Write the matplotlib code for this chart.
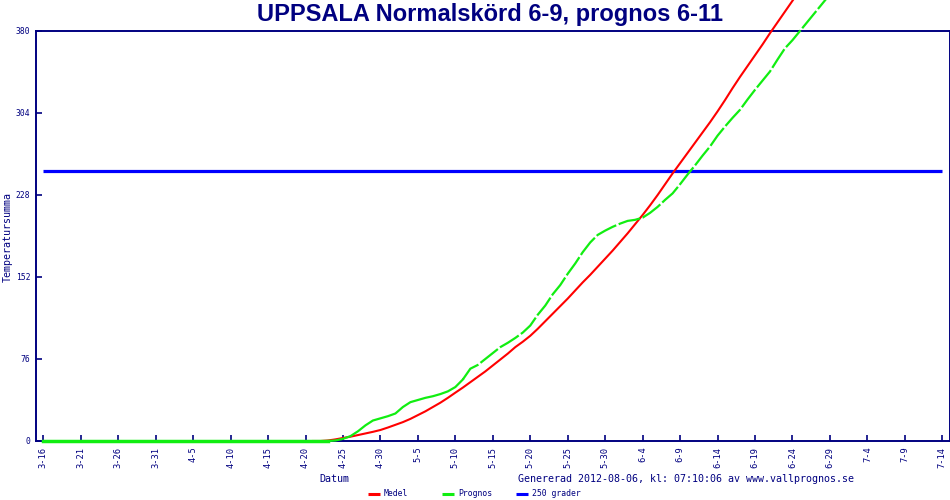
import datetime
import matplotlib
matplotlib.use('Agg')
import matplotlib.pyplot as plt
from matplotlib.lines import Line2D

# ---------------- data ----------------
YEAR = 2012
origin = '3-16'
tick_labels = ['3-16', '3-21', '3-26', '3-31', '4-5', '4-10', '4-15', '4-20', '4-25',
               '4-30', '5-5', '5-10', '5-15', '5-20', '5-25', '5-30', '6-4', '6-9',
               '6-14', '6-19', '6-24', '6-29', '7-4', '7-9', '7-14']
y_ticks = [0, 76, 152, 228, 304, 380]
threshold = 250
legend_labels = ['Medel', 'Prognos', '250 grader']

# Medel: daily values starting at 4-21
medel_start = '4-21'
medel_values = [0, 0, 0.5, 1.5, 2.8, 4, 5.5, 7, 8.5, 10.2, 12.5, 15, 17.5, 20.5, 24, 27.5,
                31.5, 35.5, 40, 44.8, 49.5, 54.5, 59.5, 64.5, 70, 75.5, 81, 87, 92, 97.5,
                104, 111, 118, 125, 132, 139.5, 147, 154, 161.5, 169, 176.5, 184.5, 192.5,
                201, 209.5, 218.5, 228, 238, 248, 257.5, 267, 276.5, 286, 295.5, 305.5, 316,
                327, 337.5, 347.5, 357.5, 367.5, 378, 388, 398, 408, 418]

# Prognos: zero until 4-23, then daily values starting at 4-24
prognos_zero_until = '4-23'
prognos_start = '4-24'
prognos_values = [0.5, 2, 4.5, 9, 14.5, 19, 21, 23, 25.5, 31.5, 36, 38, 40, 41.5, 43.5, 46,
                  50, 57, 67, 70.5, 76, 81.5, 87, 91, 95.5, 100.5, 107, 117, 125.5, 136,
                  144.5, 155, 164.5, 175, 184, 191, 195, 198.5, 201.5, 204, 205, 207, 211.5,
                  217, 223.5, 229.5, 238, 247, 255.5, 264.5, 273, 283, 291.5, 299.5, 307,
                  316.5, 325.5, 334, 342.5, 353.5, 364, 371.5, 380, 388.5, 397, 405.5, 414]
dash_from = '5-11'

# ---------------- helpers ----------------
def to_date(md):
    m, d = md.split('-')
    return datetime.date(YEAR, int(m), int(d))

d0 = to_date(origin)
def day(md):
    return (to_date(md) - d0).days

def series(start, values):
    s = day(start)
    return [s + i for i in range(len(values))], values

NAVY = '#000080'
RED = '#ff0000'
GREEN = '#11ee11'
BLUE = '#0000ff'
MONO = 'DejaVu Sans Mono'
W, H = 950, 500

fig = plt.figure(figsize=(9.5, 5), dpi=100)
fig.patch.set_facecolor('white')
ax = fig.add_axes([36 / W, 59 / H, 913.5 / W, 410 / H])

ax.set_xlim(-0.975, 120.96)
ax.set_ylim(0, 380)

# threshold line
t_days = [day(tick_labels[0]), day(tick_labels[-1])]
ax.plot(t_days, [threshold, threshold], color=BLUE, lw=2.3, zorder=2, solid_capstyle='butt')

# Medel
mx, my = series(medel_start, medel_values)
ax.plot(mx, my, color=RED, lw=1.5, zorder=3, clip_on=False)

# Prognos
z = day(prognos_zero_until)
gx0 = list(range(0, z + 1))
gy0 = [0] * len(gx0)
gx1, gy1 = series(prognos_start, prognos_values)
gx = gx0 + gx1
gy = gy0 + gy1
k = gx.index(day(dash_from))
ax.plot(gx[:z + 1], gy[:z + 1], color=GREEN, lw=2.5, zorder=4, clip_on=False)
ax.plot(gx[z:k + 1], gy[z:k + 1], color=GREEN, lw=1.6, zorder=4, clip_on=False)
ax.plot(gx[k:], gy[k:], color=GREEN, lw=1.6, zorder=4, clip_on=False,
        linestyle=(0, (10, 1.2)))

# axes styling
for sp in ax.spines.values():
    sp.set_color(NAVY)
    sp.set_linewidth(1.4)
ax.set_xticks([day(t) for t in tick_labels])
ax.set_xticklabels(tick_labels, rotation=90, fontsize=6.3, family=MONO, color=NAVY)
ax.set_yticks(y_ticks)
ax.set_yticklabels([str(v) for v in y_ticks], fontsize=5.8, family=MONO, color=NAVY)
ax.tick_params(axis='both', direction='in', length=4, width=1.2, color=NAVY)
ax.tick_params(axis='x', pad=4)
ax.tick_params(axis='y', pad=4)

# texts
fig.text(490 / W, 1 - 14 / H, 'UPPSALA Normalskörd 6-9, prognos 6-11', ha='center',
         va='center', fontsize=17, fontweight='bold', color=NAVY, family='Liberation Sans')
fig.text(7.5 / W, 1 - 236.5 / H, 'Temperatursumma', rotation=90, ha='center',
         va='center', fontsize=7.2, family=MONO, color=NAVY)
fig.text(334 / W, 1 - 478.5 / H, 'Datum', ha='center', va='center', fontsize=7.2,
         family=MONO, color=NAVY)
fig.text(685.5 / W, 1 - 478.5 / H,
         'Genererad 2012-08-06, kl: 07:10:06 av www.vallprognos.se', ha='center',
         va='center', fontsize=7.2, family=MONO, color=NAVY)

# legend (manual layout)
legend_colors = [RED, GREEN, BLUE]
legend_x = [368, 442, 516]
ly = 1 - 494 / H
for lx, lab, col in zip(legend_x, legend_labels, legend_colors):
    fig.add_artist(Line2D([lx / W, (lx + 12) / W], [ly, ly], color=col, lw=2.2,
                          transform=fig.transFigure, solid_capstyle='butt'))
    fig.text((lx + 16) / W, ly, lab, ha='left', va='center', fontsize=5.9,
             family=MONO, color=NAVY)

fig.savefig('out.png', dpi=100, facecolor='white')
